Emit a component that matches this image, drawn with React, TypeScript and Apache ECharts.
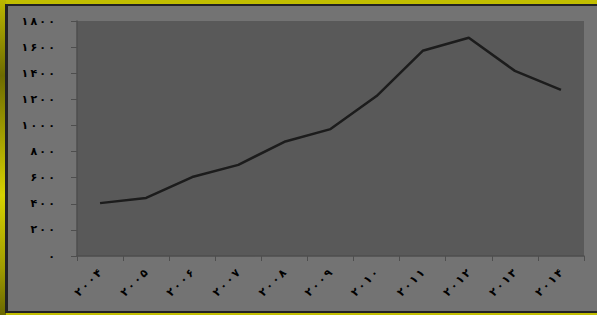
import React, { useEffect, useRef } from "react";
import * as echarts from "echarts";

const years = ["2004", "2005", "2006", "2007", "2008", "2009", "2010", "2011", "2012", "2013", "2014"];
const values = [405, 445, 605, 698, 875, 972, 1225, 1572, 1672, 1418, 1272];
const yMin = 0;
const yMax = 1800;
const yStep = 200;

const fa = (s: string | number) =>
  String(s)
    .split("")
    .map((d) => (/[0-9]/.test(d) ? String.fromCharCode(0x06f0 + Number(d)) : d))
    .join("\u2009");

export default function App() {
  const ref = useRef<HTMLDivElement>(null);
  useEffect(() => {
    if (!ref.current) return;
    const chart = echarts.init(ref.current, undefined, { renderer: "svg" });
    chart.setOption({
      animation: false,
      backgroundColor: "#737373",
      grid: {
        left: 69,
        right: 13,
        top: 15,
        bottom: 55,
        show: true,
        backgroundColor: "#595959",
        borderWidth: 0,
      },
      xAxis: {
        type: "category",
        data: years,
        boundaryGap: true,
        axisLine: { lineStyle: { color: "#4e4e4e", width: 1.5 } },
        axisTick: { show: true, length: 5, lineStyle: { color: "#4e4e4e" } },
        axisLabel: {
          rotate: 45,
          margin: 15,
          color: "#000",
          fontWeight: "bold",
          fontSize: 11,
          fontFamily: "DejaVu Sans",
          interval: 0,
          formatter: (v: string) => fa(v),
        },
      },
      yAxis: {
        type: "value",
        min: yMin,
        max: yMax,
        interval: yStep,
        splitLine: { show: false },
        axisLine: { show: true, lineStyle: { color: "#4e4e4e", width: 1.5 } },
        axisTick: { show: true, length: 6, lineStyle: { color: "#4e4e4e" } },
        axisLabel: {
          margin: 22,
          color: "#000",
          fontWeight: "bold",
          fontSize: 11,
          fontFamily: "DejaVu Sans",
          formatter: (v: number) => fa(v),
        },
      },
      series: [
        {
          type: "line",
          data: values,
          symbol: "none",
          lineStyle: { color: "#1c1c1c", width: 2.5 },
        },
      ],
    });
    return () => chart.dispose();
  }, []);

  return (
    <div
      style={{
        position: "absolute",
        left: 0,
        top: 0,
        width: 597,
        height: 315,
        background: "#c2be00",
        overflow: "hidden",
      }}
    >
      <div
        style={{
          position: "absolute",
          left: 0,
          top: 0,
          width: 6,
          height: 315,
          background:
            "linear-gradient(to bottom, #bcb800 0%, #6e6c00 24%, #a8a400 45%, #d6d200 62%, #a09c00 85%, #6a6800 100%)",
        }}
      />
      <div
        style={{
          position: "absolute",
          left: 5,
          top: 4,
          width: 592,
          height: 309,
          background: "#232323",
        }}
      />
      <div
        ref={ref}
        style={{ position: "absolute", left: 8, top: 6, width: 589, height: 305 }}
      />
    </div>
  );
}
